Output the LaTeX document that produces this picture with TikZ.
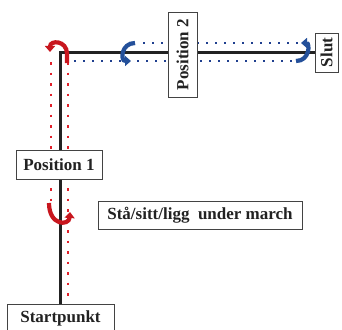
\documentclass[tikz,border=0pt]{standalone}
\usepackage{fontspec}
\setmainfont{Liberation Serif}
\usetikzlibrary{arrows.meta}
\definecolor{ink}{HTML}{222222}
\definecolor{redc}{HTML}{E0202A}
\definecolor{curlred}{HTML}{C8161E}
\definecolor{bluec}{HTML}{1F3F8F}
\definecolor{curlblue}{HTML}{24509A}
\tikzset{
  lbl/.style={draw=ink!85, line width=0.8pt, fill=white, inner sep=0pt, text=ink,
    font=\fontsize{17}{18}\selectfont\bfseries},
  mainline/.style={draw=ink, line width=2.6pt},
  reddots/.style={draw=redc, line width=2.6pt, dash pattern=on 2.6pt off 7.9pt},
  bluedots/.style={draw=bluec, line width=2.4pt, dash pattern=on 2.4pt off 6.6pt},
  redcurl/.style={draw=curlred, line width=4.2pt, -{Triangle[width=10pt,length=6pt]}},
  bluecurl/.style={draw=curlblue, line width=4.2pt, -{Triangle[width=10pt,length=6pt]}},
}
\begin{document}
\begin{tikzpicture}[x=1pt,y=-1pt]
\useasboundingbox (0,0) rectangle (342,329);
% dotted lanes
\draw[reddots] (51,62) -- (51,202);
\draw[reddots] (68,62) -- (68,296);
\draw[bluedots] (74,61) -- (300,61);
\draw[bluedots] (143,43) -- (298,43);
% nodes
\node[lbl, minimum width=107pt, minimum height=29pt] (start) at (60.5,318.5) {Startpunkt};
\node[lbl, minimum width=39pt, minimum height=23pt, rotate=90] (slut) at (326.5,52.5) {Slut};
\coordinate (corner) at (start.north |- slut.north);
\draw[mainline] (start.north) -- (corner) -- (slut.north);
\node[lbl, minimum width=86pt, minimum height=29pt] (pos1) at (59,164.5) {Position 1};
\node[lbl, minimum width=85pt, minimum height=29pt, rotate=90] (pos2) at (182.5,54.5) {Position 2};
\node[lbl, minimum width=204pt, minimum height=28pt] (stand) at (200,215) {Stå/sitt/ligg\ \ under march};
% curls
\draw[redcurl] (67,63) -- (67,54) .. controls (67,40) and (50,40) .. (50,52);
\draw[redcurl] (49,203) .. controls (49,226) and (69,226) .. (70,212);
\draw[bluecurl] (135,43) .. controls (121,43) and (120,61) .. (131,61);
\draw[bluecurl] (296,61) .. controls (310,61) and (310,43) .. (301,43);
\end{tikzpicture}
\end{document}
